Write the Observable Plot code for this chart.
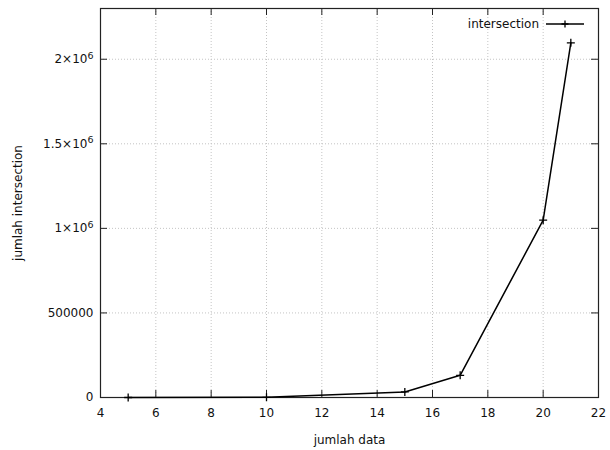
<!DOCTYPE html>
<html><head><meta charset="utf-8">
<script src="https://cdn.jsdelivr.net/npm/d3@7"></script>
<script src="https://cdn.jsdelivr.net/npm/@observablehq/plot@0.6"></script>
<style>
body{margin:0;background:#fff}
#chart{position:relative;width:610px;height:450px}
#legend{position:absolute;top:16px;right:26px;height:16px;display:flex;align-items:center;font:12px "DejaVu Sans";color:#111}
#legend svg{margin-left:7px}
</style></head><body><div id="chart"></div>
<script>
const xValues = [5, 10, 15, 17, 20, 21];
const yValues = [32, 1024, 32768, 131072, 1048576, 2097152];
const xTicks = [4, 6, 8, 10, 12, 14, 16, 18, 20, 22];
const yTicks = [0, 500000, 1000000, 1500000, 2000000];
const yTickLabels = ["0", "500000", "1×10^6", "1.5×10^6", "2×10^6"];
const seriesName = "intersection";
const xLabel = "jumlah data";
const yLabel = "jumlah intersection";

const data = xValues.map((x, i) => ({x, y: yValues[i]}));
const W = 610, H = 450, mt = 8, mb = 53, ml = 100, mr = 12;
const ph = H - mt - mb, pw = W - ml - mr, tk = 7;
const innerX = xTicks.slice(1, -1), innerY = yTicks.slice(1);

const plot = Plot.plot({
  width: W, height: H, marginTop: mt, marginBottom: mb, marginLeft: ml, marginRight: mr,
  style: {fontFamily: "DejaVu Sans", fontSize: "12px", color: "#111", background: "#fff"},
  x: {domain: [4, 22], label: null},
  y: {domain: [0, 2300000], label: null},
  marks: [
    Plot.ruleX(innerX, {x: d => d, stroke: "#c4c4c4", strokeDasharray: "1,2"}),
    Plot.ruleY(innerY, {y: d => d, stroke: "#c4c4c4", strokeDasharray: "1,2"}),
    Plot.ruleX(innerX, {x: d => d, insetTop: ph - tk, stroke: "#222"}),
    Plot.ruleX(innerX, {x: d => d, insetBottom: ph - tk, stroke: "#222"}),
    Plot.ruleY(innerY, {y: d => d, insetRight: pw - tk, stroke: "#222"}),
    Plot.ruleY(innerY, {y: d => d, insetLeft: pw - tk, stroke: "#222"}),
    Plot.frame({stroke: "#222", strokeWidth: 1.2}),
    Plot.axisX(xTicks, {tickSize: 0, tickPadding: 11, tickFormat: d => String(d)}),
    Plot.axisY(yTicks, {tickSize: 0, tickPadding: 7, tickFormat: d => yTickLabels[yTicks.indexOf(d)]}),
    Plot.line(data, {x: "x", y: "y", stroke: "#000", strokeWidth: 1.5}),
    Plot.dot(data, {x: "x", y: "y", symbol: "plus", stroke: "#000", strokeWidth: 1.3, r: 2.7}),
    Plot.text([xLabel], {frameAnchor: "bottom", dy: 43, lineAnchor: "middle", textAnchor: "middle", text: d => d}),
    Plot.text([yLabel], {frameAnchor: "left", dx: -82, rotate: -90, lineAnchor: "middle", textAnchor: "middle", text: d => d})
  ]
});
// render "^n" as a real superscript
plot.querySelectorAll("text").forEach(t => {
  if (t.children.length === 0 && t.textContent.includes("^")) {
    const [base, exp] = t.textContent.split("^");
    t.textContent = base;
    const s = document.createElementNS("http://www.w3.org/2000/svg", "tspan");
    s.setAttribute("dy", "-0.45em");
    s.setAttribute("font-size", "9.5");
    s.textContent = exp;
    t.appendChild(s);
  }
});
const chart = document.getElementById("chart");
chart.appendChild(plot);
const lg = document.createElement("div");
lg.id = "legend";
lg.innerHTML = `<span>${seriesName}</span><svg width="38" height="16"><line x1="0" x2="38" y1="8" y2="8" stroke="#000" stroke-width="1.5"/><path d="M19,4.5V11.5M15.5,8H22.5" stroke="#000" stroke-width="1.3"/></svg>`;
chart.appendChild(lg);
</script></body></html>
